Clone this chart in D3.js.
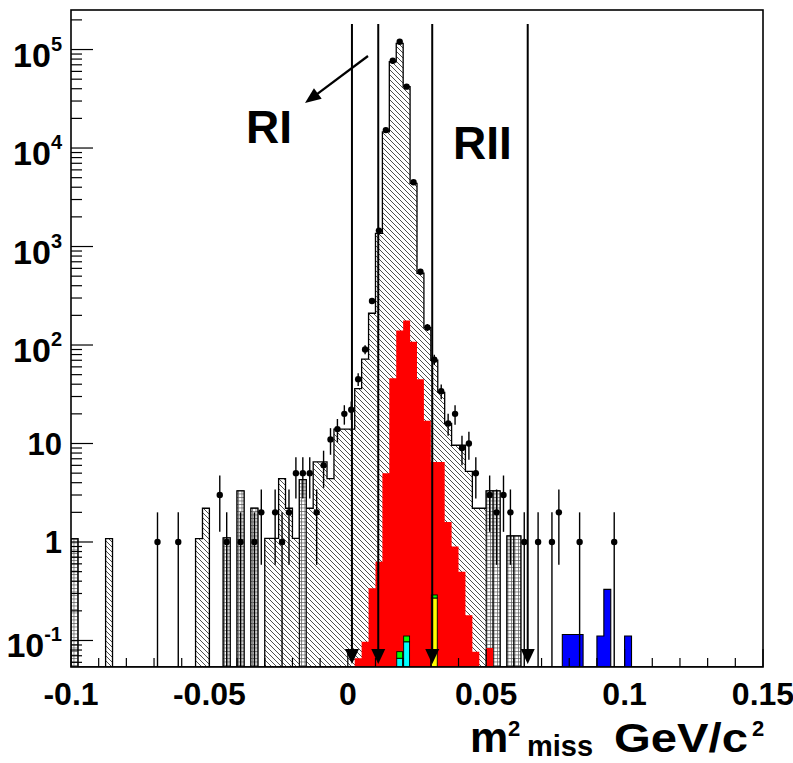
<!DOCTYPE html>
<html><head><meta charset="utf-8">
<script src="https://cdn.jsdelivr.net/npm/d3@7/dist/d3.min.js"></script>
<style>body{margin:0;background:#fff}text{font-family:"Liberation Sans",Arial,Helvetica,sans-serif;font-weight:bold;fill:#000}</style>
</head><body>
<svg id="c" width="793" height="763"></svg>
<script>
// ---- binning: 100 bins of m2_miss from -0.1 to 0.15 GeV^2/c^4 ----
const binLow = -0.1, binWidth = 0.0025, nBins = 100;

// total MC (hatched), one value per bin
const mcTotal = [
  1.08,0,0,0,0,1.08,0,0,0,0,
  0,0,0,0,0,0,0,0,1.08,2.2,
  0,0,1.1,0,3.3,0,2.2,0,1.09,1.09,
  4.4,2.2,1.09,4.3,2.2,6.5,6.5,4.4,14,14,
  14,36,72,210,1360,14600,75200,115700,41900,4380,
  535,150,70,33,16,9.6,9.6,5.2,2.2,2.2,
  3.3,3.3,0,1.15,1.15,0,0,0,0,0,
  0,0,0,0,0,0,0,0,0,0,
  0,0,0,0,0,0,0,0,0,0,
  0,0,0,0,0,0,0,0,0,0
];
// second MC component drawn with the brick pattern
const brickBins = [0, 22, 24, 26, 33, 60, 61, 63, 64];
const brickVals = [1.08, 1.1, 3.3, 2.2, 4.3, 3.3, 3.3, 1.15, 1.15];
// red signal histogram
const signalBins = [41,42,43,44,45,46,47,48,49,50,51,52,53,54,55,56,57,58,59,60];
const signalVals = [0.066,0.097,0.34,0.63,5.0,46,140,177,108,45,17,6.5,6.5,1.6,0.9,0.5,0.18,0.077,0,0.084];
// small stacked components
const cyanBins = [47, 48];      const cyanVals = [0.066, 0.097];
const yellowBins = [52];        const yellowVals = [0.27];
const greenBins = [47, 48, 52]; const greenVals = [0.011, 0.014, 0.02];
// blue histogram
const blueBins = [71, 72, 73, 76, 77, 80];
const blueVals = [0.115, 0.115, 0.115, 0.111, 0.33, 0.111];
// data points (counts)
const dataBins = [12,15,21,22,24,26,27,29,30,31,32,33,34,35,36,37,38,39,40,41,42,43,44,45,46,47,48,49,50,51,52,53,54,55,56,57,58,60,61,62,63,65,67,69,70,73,78];
const dataCounts = [1,1,3,1,1,1,2,2,1,2,5,5,5,2,6,11,14,20,22,45,90,280,1450,15200,77000,120000,42000,4500,555,151,71,34,16,20,9,10,5,3,2,3,2,1,1,1,2,1,1];
// cut positions and labels
const cutValues = [0.0015, 0.011, 0.0305, 0.065];
const xTickLabels = ["-0.1","-0.05","0","0.05","0.1","0.15"];
const xTickValues = [-0.1,-0.05,0,0.05,0.1,0.15];
const yTickExps = [-1,0,1,2,3,4,5];

// ---- layout ----
const L = 71, R = 763, T = 10, B = 667;
const svg = d3.select("#c");
const x = d3.scaleLinear().domain([-0.1, 0.15]).range([L, R]);
const y = d3.scaleLog().domain([0.0538, 2.52e5]).range([B, T]);
const edge = i => x(binLow + i * binWidth);
const yv = v => (v > 0 ? Math.min(B, y(v)) : B);

const defs = svg.append("defs");
defs.append("clipPath").attr("id", "fr").append("rect")
  .attr("x", L).attr("y", T).attr("width", R - L).attr("height", B - T);
const hs = 5;
const hp = defs.append("pattern").attr("id", "hatch").attr("patternUnits", "userSpaceOnUse")
  .attr("width", hs).attr("height", hs);
hp.append("rect").attr("width", hs).attr("height", hs).attr("fill", "#fff");
hp.append("path").attr("d", `M0,0L${hs},${hs}M-1.25,3.75L1.25,6.25M3.75,-1.25L6.25,1.25`)
  .attr("stroke", "#222").attr("stroke-width", 0.8);
const bp = defs.append("pattern").attr("id", "brick").attr("patternUnits", "userSpaceOnUse")
  .attr("width", 3.5).attr("height", 3.5);
bp.append("rect").attr("width", 3.5).attr("height", 3.5).attr("fill", "#fff");
bp.append("path").attr("d", "M0,0.5H3.5M0.5,0V3.5").attr("stroke", "#555").attr("stroke-width", 0.7);

const full = (bins, vals) => { const a = new Array(nBins).fill(0); bins.forEach((b, k) => a[b] = vals[k]); return a; };
function stepPath(arr) {
  let d = `M${edge(0)},${B}`;
  for (let i = 0; i < nBins; i++) d += `L${edge(i)},${yv(arr[i])}L${edge(i + 1)},${yv(arr[i])}`;
  return d + `L${edge(nBins)},${B}Z`;
}

const g = svg.append("g").attr("clip-path", "url(#fr)");
// hatched total
g.append("path").attr("d", stepPath(mcTotal)).attr("fill", "url(#hatch)")
  .attr("stroke", "#000").attr("stroke-width", 1.3);
// brick component
g.selectAll(".brk").data(brickBins).enter().append("rect")
  .attr("x", d => edge(d)).attr("width", d => edge(d + 1) - edge(d))
  .attr("y", (d, k) => yv(brickVals[k])).attr("height", (d, k) => B - yv(brickVals[k]))
  .attr("fill", "url(#brick)").attr("stroke", "#000").attr("stroke-width", 1.1);
// red signal
g.append("path").attr("d", stepPath(full(signalBins, signalVals))).attr("fill", "#ff0000").attr("stroke", "none");
// cyan / yellow with green stacked on top
const base = full(cyanBins, cyanVals);
yellowBins.forEach((b, k) => base[b] += yellowVals[k]);
function barRects(bins, lo, hi, color) {
  bins.forEach((b, k) => {
    const y0 = yv(lo(b, k)), y1 = yv(hi(b, k));
    g.append("rect").attr("x", edge(b) + 0.5).attr("width", edge(b + 1) - edge(b) - 1)
      .attr("y", y1).attr("height", y0 - y1).attr("fill", color).attr("stroke", "#000").attr("stroke-width", 0.9);
  });
}
barRects(cyanBins, () => 0, (b, k) => cyanVals[k], "#00ffff");
barRects(yellowBins, () => 0, (b, k) => yellowVals[k], "#ffff00");
barRects(greenBins, b => base[b], (b, k) => base[b] + greenVals[k], "#00ff00");
// blue
g.append("path").attr("d", stepPath(full(blueBins, blueVals))).attr("fill", "#0000ff")
  .attr("stroke", "#000").attr("stroke-width", 1.1);

// cut lines with arrows
cutValues.forEach(c => {
  const cx = x(c);
  svg.append("line").attr("x1", cx).attr("x2", cx).attr("y1", 24).attr("y2", 655)
    .attr("stroke", "#000").attr("stroke-width", 2);
  svg.append("polygon").attr("points", `${cx - 7},649 ${cx + 7},649 ${cx},664`).attr("fill", "#000");
});

// data points with sqrt(N) error bars
const dg = svg.append("g").attr("clip-path", "url(#fr)");
dataBins.forEach((b, k) => {
  const n = dataCounts[k], cx = x(binLow + (b + 0.5) * binWidth), e = Math.sqrt(n);
  dg.append("line").attr("x1", cx).attr("x2", cx).attr("y1", yv(n + e)).attr("y2", n - e > 0 ? yv(n - e) : B)
    .attr("stroke", "#000").attr("stroke-width", 1.4);
  dg.append("circle").attr("cx", cx).attr("cy", y(n)).attr("r", 3.2).attr("fill", "#000");
});

// ticks
const tk = svg.append("g").attr("stroke", "#000").attr("stroke-width", 1.2);
for (let e = -2; e <= 5; e++) for (let m = 1; m <= 9; m++) {
  const v = m * Math.pow(10, e);
  if (v < y.domain()[0] || v > y.domain()[1]) continue;
  tk.append("line").attr("x1", L).attr("x2", L + (m === 1 ? 22 : 11)).attr("y1", y(v)).attr("y2", y(v));
}
for (let k = -10; k <= 15; k++) {
  const v = k / 100, len = (k % 5 === 0) ? 18 : 9;
  tk.append("line").attr("x1", x(v)).attr("x2", x(v)).attr("y1", B).attr("y2", B - len);
}
// frame
svg.append("rect").attr("x", L).attr("y", T).attr("width", R - L).attr("height", B - T)
  .attr("fill", "none").attr("stroke", "#000").attr("stroke-width", 1.6);

// y labels
yTickExps.forEach(e => {
  const ty = y(Math.pow(10, e));
  if (e === 0 || e === 1) {
    svg.append("text").attr("x", 62).attr("y", ty + 11).attr("text-anchor", "end").attr("font-size", 31)
      .text(e === 0 ? "1" : "10");
  } else {
    const t = svg.append("text").attr("x", 62).attr("y", ty + 17).attr("text-anchor", "end").attr("font-size", 34);
    t.append("tspan").text("10");
    t.append("tspan").attr("font-size", 20).attr("dy", -16).text(String(e));
  }
});
// x labels
xTickValues.forEach((v, k) => {
  svg.append("text").attr("x", x(v)).attr("y", 705).attr("text-anchor", "middle").attr("font-size", 32).text(xTickLabels[k]);
});
// axis title
svg.append("text").attr("x", 470).attr("y", 752).attr("font-size", 43).text("m");
svg.append("text").attr("x", 508).attr("y", 736).attr("font-size", 22).text("2");
svg.append("text").attr("x", 527).attr("y", 756).attr("font-size", 29).text("miss");
svg.append("text").attr("x", 614).attr("y", 752).attr("font-size", 40).attr("textLength", 134)
  .attr("lengthAdjust", "spacingAndGlyphs").text("GeV/c");
svg.append("text").attr("x", 752).attr("y", 736).attr("font-size", 22).text("2");

// region labels and arrow
svg.append("text").attr("x", 246).attr("y", 143).attr("font-size", 46).text("RI");
svg.append("text").attr("x", 453).attr("y", 159).attr("font-size", 46).text("RII");
const a0 = [368, 56], a1 = [305, 103];
const dx = a1[0] - a0[0], dy = a1[1] - a0[1], ln = Math.hypot(dx, dy), ux = dx / ln, uy = dy / ln;
svg.append("line").attr("x1", a0[0]).attr("y1", a0[1]).attr("x2", a1[0] - ux * 10).attr("y2", a1[1] - uy * 10)
  .attr("stroke", "#000").attr("stroke-width", 2.2);
const bx = a1[0] - ux * 16, by = a1[1] - uy * 16;
svg.append("polygon").attr("points", `${a1[0]},${a1[1]} ${bx - uy * 6.5},${by + ux * 6.5} ${bx + uy * 6.5},${by - ux * 6.5}`).attr("fill", "#000");
</script>
</body></html>
